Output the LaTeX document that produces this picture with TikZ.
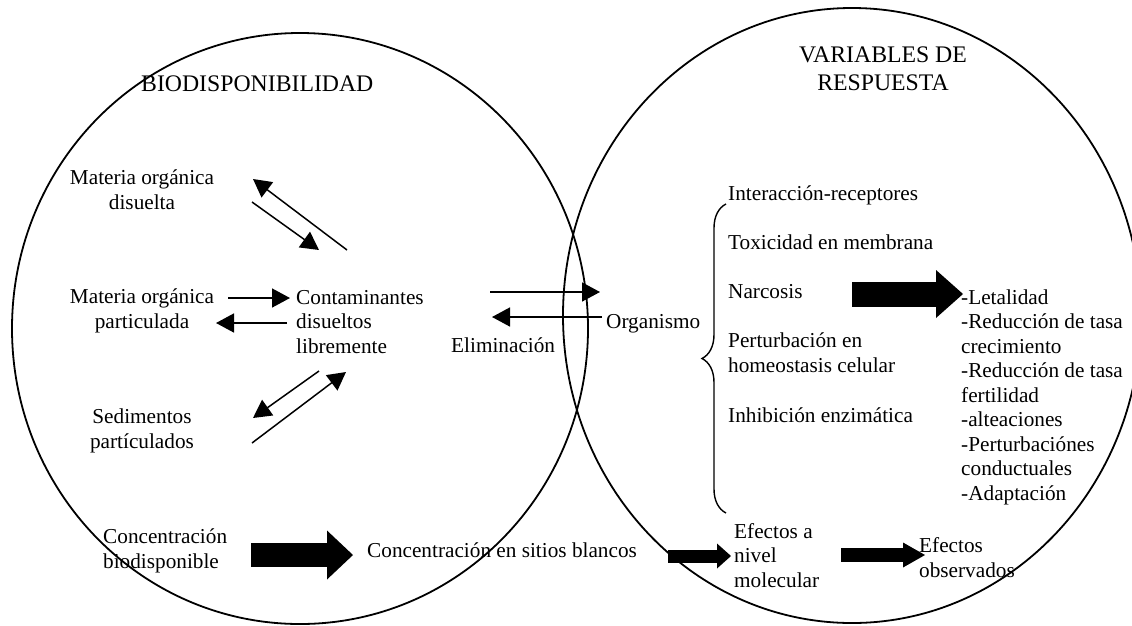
\documentclass[tikz,border=0pt]{standalone}
\usepackage{fontspec}
\setmainfont{Liberation Serif}
\usetikzlibrary{arrows.meta,decorations.pathreplacing}

\tikzset{
  txt/.style={inner sep=0pt, font=\fontsize{21.25}{24.5}\selectfont},
  ttl/.style={inner sep=0pt, align=center, font=\fontsize{23.75}{28}\selectfont},
  thinarrow/.style={line width=1.5pt, -{Triangle[length=18pt,width=19pt]}},
  blockarrow/.style n args={3}{line width=#1, -{Triangle[length=#2,width=#3,line width=0pt]}}
}

\begin{document}
\begin{tikzpicture}[x=1pt,y=-1pt]
\useasboundingbox (0,0) rectangle (1132,625);
\clip (0,0) rectangle (1132,625);

% the two circles
\draw[line width=1.8pt] (300,328.5) ellipse [x radius=288, y radius=295.5];
\draw[line width=1.8pt] (852,315.5) ellipse [x radius=289, y radius=307.5];

% multi-line nodes sit on the baseline of their last line
\node[ttl, anchor=base west] (bio) at (141,91) {BIODISPONIBILIDAD};
\node[ttl, anchor=base] (var) at (883,90) {VARIABLES DE\\RESPUESTA};

% left side
\node[txt, anchor=base, align=center] (mod) at (142,209) {Materia orgánica\\disuelta};
\node[txt, anchor=base, align=center] (mop) at (142,328) {Materia orgánica\\particulada};
\node[txt, anchor=base west, align=left] (cont) at (296,353) {Contaminantes\\disueltos\\libremente};
\node[txt, anchor=base, align=center] (sed) at (142,448) {Sedimentos\\partículados};
\node[txt, anchor=base west] (elim) at (451,352) {Eliminación};
\node[txt, anchor=base west] (org) at (606,328) {Organismo};
\node[txt, anchor=base west, align=left] (cb) at (103,568) {Concentración\\biodisponible};
\node[txt, anchor=base west] (csb) at (367,557) {Concentración en sitios blancos};

\draw[thinarrow] ([shift={(51,-103)}]cont.base west) -- ([shift={(111,-30)}]mod.base);
\draw[thinarrow] ([shift={(110,-7)}]mod.base) -- ([shift={(23,-103)}]cont.base west);
\draw[thinarrow] ([shift={(86,-30)}]mop.base) -- ([shift={(-6,-55)}]cont.base west);
\draw[thinarrow] ([shift={(-9,-30)}]cont.base west) -- ([shift={(74,-5)}]mop.base);
\draw[thinarrow] ([shift={(23,18)}]cont.base west) -- ([shift={(111,-30)}]sed.base);
\draw[thinarrow] ([shift={(110,-5)}]sed.base) -- ([shift={(50,19)}]cont.base west);
\draw[thinarrow] ([shift={(194,-61)}]cont.base west) -- ([shift={(-6,-36)}]org.base west);
\draw[thinarrow] ([shift={(-4,-11)}]org.base west) -- ([shift={(41,-35)}]elim.base west);

% right side
\node[txt, anchor=base west] (intr) at (728,200) {Interacción-receptores};
\node[txt, anchor=base west] (toxm) at (728,249) {Toxicidad en membrana};
\node[txt, anchor=base west] (narc) at (728,298) {Narcosis};
\node[txt, anchor=base west, align=left] (pert) at (728,372) {Perturbación en\\homeostasis celular};
\node[txt, anchor=base west] (inhib) at (728,422) {Inhibición enzimática};
\draw[line width=1.4pt, decorate, decoration={brace, amplitude=24pt}] (726,513) -- (726,204);

\node[txt, anchor=base west, align=left] (res) at (961,500) {-Letalidad\\-Reducción de tasa\\crecimiento\\-Reducción de tasa\\fertilidad\\-alteaciones\\-Perturbaciónes\\conductuales\\-Adaptación};
\node[txt, anchor=base west, align=left] (enm) at (734,587) {Efectos a\\nivel\\molecular};
\node[txt, anchor=base west, align=left] (eo) at (919,577) {Efectos\\observados};

% block arrows
\draw[blockarrow={24pt}{26pt}{49pt}] ([shift={(148,-13)}]cb.base west) -- ([shift={(-14,-2)}]csb.base west);
\draw[blockarrow={13pt}{14pt}{25pt}] ([shift={(301,-1)}]csb.base west) -- ([shift={(-3,-31)}]enm.base west);
\draw[blockarrow={14pt}{22pt}{25pt}] ([shift={(107,-32)}]enm.base west) -- ([shift={(6,-22)}]eo.base west);
\draw[blockarrow={25pt}{27pt}{48pt}] ([shift={(124,-4)}]narc.base west) -- ([shift={(2,-206)}]res.base west);

\end{tikzpicture}
\end{document}
